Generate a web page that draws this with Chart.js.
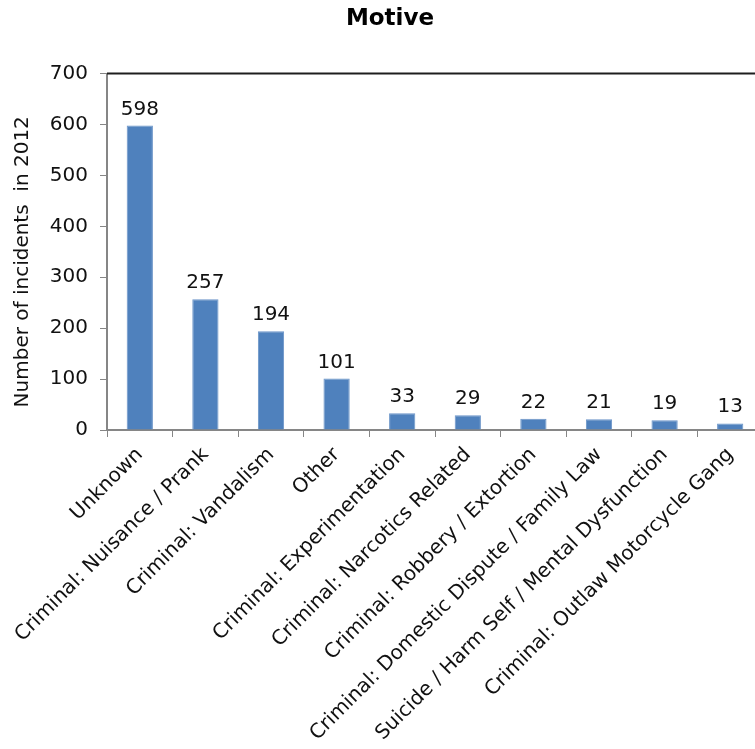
<!DOCTYPE html>
<html>
<head>
<meta charset="utf-8">
<script src="https://cdn.jsdelivr.net/npm/chart.js@4/dist/chart.umd.min.js"></script>
<style>
  html, body { margin: 0; padding: 0; background: #fff; overflow: hidden; }
  #wrap { width: 780px; height: 749px; }
</style>
</head>
<body>
<div id="wrap"><canvas id="chart" width="780" height="749"></canvas></div>
<script>
// Motives recorded for incidents in 2012
const categories = [
  'Unknown',
  'Criminal: Nuisance / Prank',
  'Criminal: Vandalism',
  'Other',
  'Criminal: Experimentation',
  'Criminal: Narcotics Related',
  'Criminal: Robbery / Extortion',
  'Criminal: Domestic Dispute / Family Law',
  'Suicide / Harm Self / Mental Dysfunction',
  'Criminal: Outlaw Motorcycle Gang'
];
const incidents = [598, 257, 194, 101, 33, 29, 22, 21, 19, 13];
const yTicks = [0, 100, 200, 300, 400, 500, 600, 700];
const yTitle = 'Number of incidents  in 2012';

const FONT = '"DejaVu Sans", Verdana, sans-serif';
const AXIS_GREY = '#868686';

// Writes each bar's value just above it
const valueLabels = {
  id: 'valueLabels',
  afterDatasetsDraw(chart) {
    const ctx = chart.ctx;
    const meta = chart.getDatasetMeta(0);
    ctx.save();
    ctx.font = '20px ' + FONT;
    ctx.fillStyle = '#111';
    ctx.textAlign = 'center';
    ctx.textBaseline = 'alphabetic';
    meta.data.forEach((bar, i) => {
      ctx.fillText(String(chart.data.datasets[0].data[i]), bar.x, bar.y - 11);
    });
    ctx.restore();
  }
};

// Dark rule along the top of the plot area, plus the rotated value-axis title
const frameAndTitle = {
  id: 'frameAndTitle',
  afterDraw(chart) {
    const a = chart.chartArea;
    const ctx = chart.ctx;
    ctx.save();
    ctx.strokeStyle = '#1e1e1e';
    ctx.lineWidth = 2;
    ctx.beginPath();
    ctx.moveTo(a.left, a.top);
    ctx.lineTo(chart.width, a.top);
    ctx.stroke();

    ctx.translate(28, (a.top + a.bottom) / 2 + 10);
    ctx.rotate(-Math.PI / 2);
    ctx.font = '20px ' + FONT;
    ctx.fillStyle = '#111';
    ctx.textAlign = 'center';
    ctx.textBaseline = 'alphabetic';
    ctx.fillText(yTitle, 0, 0);
    ctx.restore();
  }
};

new Chart(document.getElementById('chart'), {
  type: 'bar',
  data: {
    labels: categories,
    datasets: [{
      data: incidents,
      backgroundColor: '#4F81BD',
      borderColor: '#6A94C8',
      borderWidth: 1,
      barPercentage: 0.4,
      categoryPercentage: 1.0
    }]
  },
  options: {
    responsive: false,
    animation: false,
    devicePixelRatio: 1,
    layout: { padding: 0 },
    plugins: {
      legend: { display: false },
      tooltip: { enabled: false },
      title: {
        display: true,
        text: 'Motive',
        color: '#000',
        font: { family: FONT, size: 23, weight: 'bold' },
        padding: { top: 5, bottom: 41 }
      }
    },
    scales: {
      x: {
        grid: {
          display: true,
          drawOnChartArea: false,
          drawTicks: true,
          tickLength: 7,
          color: 'rgba(0,0,0,0)',
          tickColor: AXIS_GREY,
          offset: true
        },
        border: { display: true, color: AXIS_GREY, width: 2 },
        ticks: {
          autoSkip: false,
          maxRotation: 45,
          minRotation: 45,
          padding: 6,
          color: '#111',
          font: { family: FONT, size: 20 }
        },
        afterFit(scale) { scale.height = 319; scale.paddingRight = 17; }
      },
      y: {
        min: 0,
        max: 700,
        afterBuildTicks(scale) {
          scale.ticks = yTicks.map(v => ({ value: v }));
        },
        grid: {
          display: true,
          drawOnChartArea: false,
          drawTicks: true,
          tickLength: 7,
          color: 'rgba(0,0,0,0)',
          tickColor: AXIS_GREY
        },
        border: { display: true, color: AXIS_GREY, width: 2 },
        ticks: {
          padding: 12,
          color: '#111',
          font: { family: FONT, size: 20 }
        },
        afterFit(scale) { scale.width = 107; }
      }
    }
  },
  plugins: [valueLabels, frameAndTitle]
});
</script>
</body>
</html>
